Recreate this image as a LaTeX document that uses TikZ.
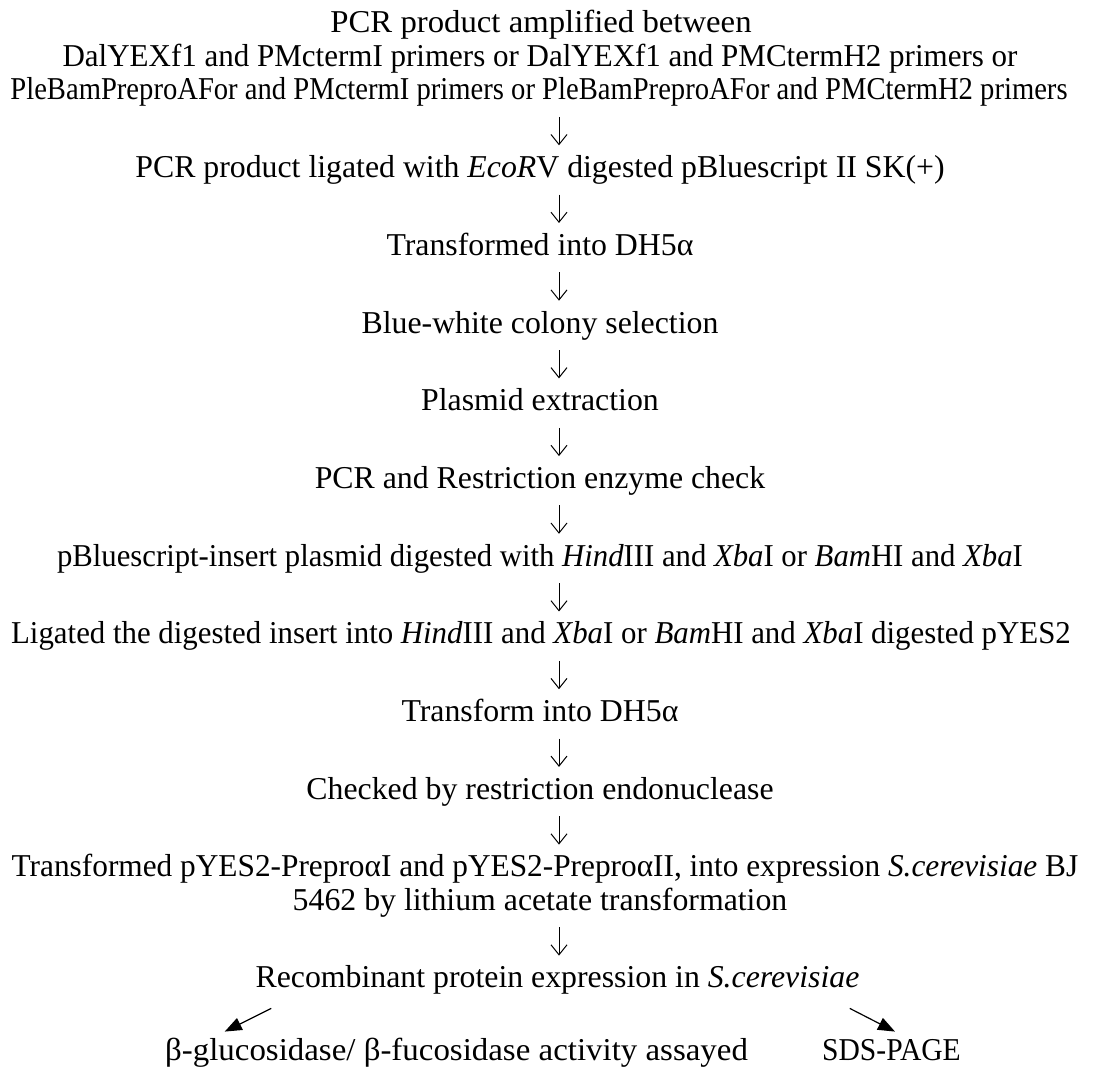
\documentclass[tikz,border=0pt]{standalone}
\usepackage{graphicx}
\usepackage{fontspec}
\setmainfont{Liberation Serif}
\usetikzlibrary{arrows.meta,calc}
\begin{document}
\begin{tikzpicture}[x=0.5pt,y=-0.5pt,
  txt/.style={font=\fontsize{15.9}{19}\selectfont, inner sep=0pt,
    text height=11.2pt, text depth=3.5pt, anchor=base},
  downarr/.style={-{Straight Barb[length=5pt,width=8pt]}, line width=0.5pt,
    shorten <=4.8pt, shorten >=4.8pt},
  diagarr/.style={-{Triangle[length=8.5pt,width=6.5pt]}, line width=0.6pt}]
\useasboundingbox (0,0) rectangle (1120,1068);
\coordinate (ax) at (559,0);
\node[txt] (t1) at (541,33) {\scalebox{1.03}[1]{PCR product amplified between}};
\node[txt] (t2) at (540,66.5) {\scalebox{0.975}[1]{DalYEXf1 and PMctermI primers or DalYEXf1 and PMCtermH2 primers or}};
\node[txt] (t3) at (539,100) {\scalebox{0.9}[1]{PleBamPreproAFor and PMctermI primers or PleBamPreproAFor and PMCtermH2 primers}};
\node[txt] (t4) at (540,177.7) {PCR product ligated with \textit{EcoR}V digested pBluescript II SK(+)};
\node[txt] (t5) at (540,255.4) {Transformed into DH5α};
\node[txt] (t6) at (540,333.1) {Blue-white colony selection};
\node[txt] (t7) at (540,410.8) {Plasmid extraction};
\node[txt] (t8) at (540,488.5) {PCR and Restriction enzyme check};
\node[txt] (t9) at (540,566.2) {\scalebox{0.966}[1]{pBluescript-insert plasmid digested with \textit{Hind}III and \textit{Xba}I or \textit{Bam}HI and \textit{Xba}I}};
\node[txt] (t10) at (541,643.9) {\scalebox{0.97}[1]{Ligated the digested insert into \textit{Hind}III and \textit{Xba}I or \textit{Bam}HI and \textit{Xba}I digested pYES2}};
\node[txt] (t11) at (540,721.6) {Transform into DH5α};
\node[txt] (t12) at (540,799.3) {Checked by restriction endonuclease};
\node[txt] (t13) at (545,877) {\scalebox{0.985}[1]{Transformed pYES2-PreproαI and pYES2-PreproαII, into expression \textit{S.cerevisiae} BJ}};
\node[txt] (t13b) at (540,910.5) {5462 by lithium acetate transformation};
\node[txt] (t14) at (557.5,988) {Recombinant protein expression in \textit{S.cerevisiae}};
\node[txt] (t15a) at (456.5,1060) {\scalebox{1.035}[1]{β-glucosidase/ β-fucosidase activity assayed}};
\node[txt] (t15b) at (891.5,1060) {\scalebox{0.93}[1]{SDS-PAGE}};
\foreach \a/\b in {t3/t4,t4/t5,t5/t6,t6/t7,t7/t8,t8/t9,t9/t10,t10/t11,t11/t12,t12/t13,t13b/t14}
  \draw[downarr] (\a.south -| ax) -- (\b.north -| ax);
\draw[diagarr] ($(t14.south west)+(16,13)$) -- ($(t15a.north west)+(60,-5.6)$);
\draw[diagarr] ($(t14.south east)+(-10,13)$) -- ($(t15b.north)+(3.5,-5.6)$);
\end{tikzpicture}
\end{document}
